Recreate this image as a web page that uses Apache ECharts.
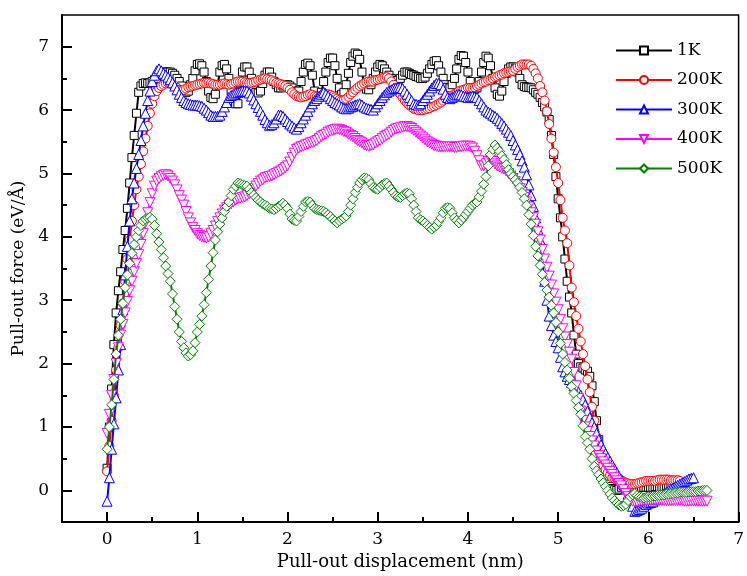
<!DOCTYPE html>
<html>
<head>
<meta charset="utf-8">
<script src="https://cdn.jsdelivr.net/npm/echarts@6/dist/echarts.min.js"></script>
<style>html,body{margin:0;padding:0;background:#fff}#c{width:747px;height:576px}</style>
</head>
<body>
<div id="c"></div>
<script>
// Pull-out displacement (nm)
var xs = [
0,0.025,0.05,0.075,0.1,0.125,0.15,0.175,0.2,0.225,0.25,0.275,0.3,0.325,0.35,0.375,0.4,0.425,0.45,0.475,
0.5,0.525,0.55,0.575,0.6,0.625,0.65,0.675,0.7,0.725,0.75,0.775,0.8,0.825,0.85,0.875,0.9,0.925,0.95,0.975,
1.0,1.025,1.05,1.075,1.1,1.125,1.15,1.175,1.2,1.225,1.25,1.275,1.3,1.325,1.35,1.375,1.4,1.425,1.45,1.475,
1.5,1.525,1.55,1.575,1.6,1.625,1.65,1.675,1.7,1.725,1.75,1.775,1.8,1.825,1.85,1.875,1.9,1.925,1.95,1.975,
2.0,2.025,2.05,2.075,2.1,2.125,2.15,2.175,2.2,2.225,2.25,2.275,2.3,2.325,2.35,2.375,2.4,2.425,2.45,2.475,
2.5,2.525,2.55,2.575,2.6,2.625,2.65,2.675,2.7,2.725,2.75,2.775,2.8,2.825,2.85,2.875,2.9,2.925,2.95,2.975,
3.0,3.025,3.05,3.075,3.1,3.125,3.15,3.175,3.2,3.225,3.25,3.275,3.3,3.325,3.35,3.375,3.4,3.425,3.45,3.475,
3.5,3.525,3.55,3.575,3.6,3.625,3.65,3.675,3.7,3.725,3.75,3.775,3.8,3.825,3.85,3.875,3.9,3.925,3.95,3.975,
4.0,4.025,4.05,4.075,4.1,4.125,4.15,4.175,4.2,4.225,4.25,4.275,4.3,4.325,4.35,4.375,4.4,4.425,4.45,4.475,
4.5,4.525,4.55,4.575,4.6,4.625,4.65,4.675,4.7,4.725,4.75,4.775,4.8,4.825,4.85,4.875,4.9,4.925,4.95,4.975,
5.0,5.025,5.05,5.075,5.1,5.125,5.15,5.175,5.2,5.225,5.25,5.275,5.3,5.325,5.35,5.375,5.4,5.425,5.45,5.475,
5.5,5.525,5.55,5.575,5.6,5.625,5.65,5.675,5.7,5.725,5.75,5.775,5.8,5.825,5.85,5.875,5.9,5.925,5.95,5.975,
6.0,6.025,6.05,6.075,6.1,6.125,6.15,6.175,6.2,6.225,6.25,6.275,6.3,6.325,6.35,6.375,6.4,6.425,6.45,6.475,
6.5,6.525,6.55,6.575,6.6,6.625,6.65
];
// Pull-out force (eV/Å)
var f1K = [
0.35,1.0,1.6,2.3,2.8,3.15,3.45,3.8,4.1,4.45,4.85,5.25,5.6,5.95,6.28,6.38,6.42,6.43,6.42,6.43,
6.45,6.48,6.5,6.55,6.58,6.6,6.6,6.6,6.6,6.58,6.55,6.5,6.45,6.38,6.3,6.28,6.3,6.4,6.5,6.62,
6.72,6.73,6.7,6.6,6.45,6.3,6.2,6.18,6.25,6.4,6.6,6.7,6.72,6.65,6.5,6.3,6.15,6.1,6.1,6.3,
6.6,6.68,6.68,6.6,6.5,6.38,6.28,6.27,6.3,6.42,6.55,6.6,6.6,6.52,6.45,6.4,6.35,6.35,6.38,6.4,
6.4,6.38,6.35,6.3,6.25,6.3,6.45,6.6,6.72,6.74,6.7,6.55,6.3,6.22,6.2,6.28,6.45,6.6,6.75,6.82,
6.82,6.7,6.5,6.35,6.25,6.28,6.4,6.58,6.75,6.85,6.9,6.88,6.8,6.6,6.4,6.33,6.32,6.4,6.5,6.6,
6.68,6.72,6.7,6.65,6.6,6.55,6.5,6.47,6.45,6.47,6.5,6.55,6.6,6.6,6.58,6.56,6.55,6.53,6.52,6.5,
6.5,6.52,6.58,6.65,6.72,6.77,6.78,6.7,6.6,6.5,6.4,6.36,6.35,6.4,6.5,6.65,6.8,6.86,6.85,6.75,
6.6,6.45,6.35,6.33,6.35,6.45,6.6,6.75,6.85,6.82,6.7,6.5,6.35,6.25,6.22,6.3,6.45,6.58,6.65,6.68,
6.68,6.66,6.6,6.5,6.4,6.37,6.36,6.36,6.35,6.32,6.28,6.25,6.2,6.12,6.05,5.97,5.85,5.6,5.3,4.95,
4.6,4.3,4.0,3.65,3.3,3.05,2.8,2.45,2.15,2.0,1.95,1.93,1.9,1.88,1.8,1.65,1.4,1.1,0.8,0.55,
0.3,0.18,0.1,0.06,0.03,0.01,0.0,0.02,0.05,0.07,0.08,0.07,0.06,0.05,0.05,0.06,0.06,0.05,0.05,0.05,
0.05,0.05,0.05,0.06,0.06,0.05,0.05,0.05,0.05,0.05,0.05
];
var f200K = [
0.3,0.7,1.1,1.5,1.9,2.25,2.6,2.95,3.3,3.65,3.95,4.25,4.5,4.75,4.95,5.15,5.35,5.55,5.75,5.95,
6.1,6.22,6.3,6.35,6.38,6.4,6.42,6.43,6.42,6.4,6.38,6.35,6.32,6.31,6.32,6.34,6.36,6.37,6.38,6.39,
6.4,6.41,6.42,6.43,6.43,6.43,6.42,6.41,6.4,6.4,6.4,6.41,6.42,6.41,6.4,6.41,6.42,6.44,6.45,6.45,
6.45,6.44,6.43,6.43,6.43,6.44,6.45,6.47,6.48,6.49,6.5,6.49,6.48,6.47,6.45,6.43,6.42,6.41,6.4,6.38,
6.35,6.32,6.28,6.25,6.22,6.21,6.2,6.21,6.22,6.24,6.25,6.24,6.22,6.21,6.2,6.21,6.22,6.24,6.25,6.24,
6.22,6.2,6.18,6.16,6.15,6.16,6.18,6.21,6.25,6.28,6.32,6.35,6.38,6.4,6.42,6.44,6.45,6.45,6.45,6.47,
6.48,6.49,6.5,6.51,6.52,6.5,6.45,6.4,6.35,6.3,6.25,6.2,6.15,6.11,6.08,6.05,6.02,6.01,6.0,6.0,
6.0,6.01,6.02,6.03,6.05,6.06,6.08,6.1,6.12,6.15,6.18,6.2,6.22,6.23,6.25,6.27,6.3,6.31,6.32,6.33,
6.35,6.35,6.35,6.36,6.38,6.4,6.42,6.44,6.45,6.47,6.48,6.5,6.52,6.53,6.55,6.56,6.58,6.59,6.6,6.61,
6.62,6.65,6.68,6.7,6.72,6.72,6.72,6.72,6.7,6.65,6.58,6.5,6.38,6.28,6.15,5.98,5.78,5.55,5.33,5.1,
4.85,4.58,4.3,4.1,3.9,3.55,3.2,2.97,2.75,2.55,2.35,2.15,1.96,1.75,1.55,1.32,1.1,0.85,0.62,0.5,
0.4,0.33,0.28,0.24,0.2,0.19,0.18,0.17,0.16,0.14,0.12,0.11,0.1,0.1,0.1,0.11,0.12,0.13,0.14,0.15,
0.15,0.15,0.15,0.15,0.16,0.17,0.17,0.17,0.17,0.17,0.16,0.16,0.16,0.16,0.15
];
var f300K = [
-0.17,0.2,0.65,1.05,1.46,1.9,2.3,2.85,3.4,3.85,4.25,4.6,4.85,5.08,5.3,5.52,5.75,5.95,6.15,6.3,
6.45,6.55,6.62,6.65,6.62,6.58,6.55,6.52,6.48,6.43,6.38,6.32,6.25,6.2,6.15,6.12,6.1,6.09,6.08,6.08,
6.08,6.07,6.06,6.03,6.0,5.96,5.92,5.9,5.9,5.9,5.92,5.98,6.05,6.12,6.2,6.23,6.25,6.27,6.28,6.29,
6.3,6.3,6.3,6.27,6.22,6.16,6.1,6.04,5.98,5.92,5.85,5.8,5.76,5.77,5.8,5.86,5.92,5.92,5.9,5.86,
5.82,5.78,5.75,5.72,5.7,5.74,5.8,5.86,5.92,5.98,6.05,6.1,6.15,6.18,6.22,6.25,6.28,6.25,6.22,6.18,
6.15,6.12,6.1,6.08,6.05,6.03,6.02,6.03,6.05,6.06,6.08,6.09,6.1,6.08,6.05,6.03,6.02,6.01,6.0,6.05,
6.1,6.15,6.2,6.24,6.28,6.3,6.32,6.34,6.35,6.36,6.36,6.34,6.3,6.25,6.2,6.15,6.1,6.09,6.08,6.1,
6.15,6.2,6.25,6.3,6.35,6.39,6.42,6.42,6.4,6.33,6.25,6.2,6.18,6.2,6.22,6.24,6.25,6.24,6.22,6.21,
6.2,6.21,6.22,6.21,6.2,6.15,6.1,6.05,6.0,5.97,5.95,5.92,5.9,5.87,5.83,5.79,5.75,5.7,5.65,5.6,
5.52,5.45,5.38,5.3,5.2,5.1,4.98,4.82,4.65,4.48,4.3,4.12,3.95,3.6,3.3,3.0,2.75,2.6,2.45,2.35,
2.25,2.1,1.95,1.87,1.8,1.75,1.7,1.65,1.6,1.55,1.5,1.43,1.35,1.25,1.15,1.07,1.0,0.9,0.8,0.72,
0.65,0.58,0.52,0.46,0.4,0.34,0.28,0.22,0.17,0.1,0.02,-0.06,-0.15,-0.25,-0.33,-0.32,-0.3,-0.28,-0.25,-0.22,
-0.2,-0.19,-0.18,-0.15,-0.13,-0.1,-0.08,-0.05,-0.03,0.0,0.02,0.04,0.06,0.08,0.1,0.12,0.14,0.16,0.18,0.19,
0.2
];
var f400K = [
0.9,1.2,1.5,1.75,2.0,2.25,2.45,2.62,2.8,2.98,3.15,3.3,3.45,3.58,3.72,3.88,4.05,4.22,4.38,4.54,
4.68,4.8,4.88,4.92,4.95,4.97,4.98,4.96,4.92,4.88,4.82,4.74,4.65,4.58,4.5,4.4,4.3,4.22,4.15,4.1,
4.05,4.02,4.0,3.99,3.98,4.0,4.05,4.1,4.17,4.24,4.3,4.36,4.42,4.46,4.5,4.52,4.55,4.58,4.6,4.61,
4.62,4.63,4.65,4.68,4.72,4.76,4.8,4.84,4.88,4.9,4.93,4.94,4.95,4.96,4.98,5.0,5.02,5.04,5.06,5.09,
5.12,5.18,5.25,5.32,5.38,5.4,5.42,5.43,5.45,5.46,5.48,5.49,5.5,5.52,5.55,5.58,5.6,5.62,5.65,5.67,
5.68,5.69,5.7,5.69,5.68,5.66,5.65,5.62,5.6,5.58,5.55,5.52,5.5,5.48,5.45,5.44,5.43,5.44,5.45,5.48,
5.5,5.52,5.55,5.58,5.6,5.62,5.65,5.68,5.7,5.71,5.72,5.73,5.74,5.74,5.73,5.71,5.68,5.65,5.62,5.59,
5.56,5.53,5.5,5.48,5.46,5.44,5.43,5.42,5.42,5.42,5.42,5.42,5.42,5.42,5.41,5.41,5.42,5.42,5.43,5.43,
5.43,5.42,5.4,5.35,5.28,5.2,5.12,5.12,5.15,5.19,5.22,5.19,5.15,5.12,5.1,5.08,5.07,5.04,5.0,4.96,
4.92,4.87,4.82,4.76,4.7,4.62,4.55,4.47,4.38,4.3,4.2,4.08,3.95,3.8,3.65,3.52,3.38,3.24,3.1,2.97,
2.85,2.7,2.55,2.42,2.3,2.18,2.07,1.86,1.65,1.45,1.25,1.1,1.0,0.93,0.85,0.78,0.7,0.62,0.55,0.5,
0.45,0.4,0.35,0.3,0.25,0.2,0.15,0.11,0.07,0.01,-0.05,-0.1,-0.15,-0.17,-0.18,-0.18,-0.17,-0.17,-0.16,-0.16,
-0.15,-0.15,-0.15,-0.15,-0.15,-0.15,-0.16,-0.16,-0.16,-0.16,-0.16,-0.16,-0.16,-0.16,-0.16,-0.16,-0.17,-0.17,-0.17,-0.17,
-0.17,-0.17,-0.17,-0.17,-0.17,-0.17,-0.17
];
var f500K = [
0.65,1.0,1.35,1.75,2.15,2.45,2.7,2.95,3.2,3.4,3.58,3.74,3.88,4.0,4.1,4.18,4.25,4.28,4.3,4.31,
4.28,4.18,4.05,3.92,3.8,3.67,3.54,3.42,3.3,3.1,2.9,2.7,2.5,2.35,2.25,2.17,2.12,2.14,2.2,2.33,
2.5,2.62,2.75,2.93,3.12,3.33,3.54,3.75,3.95,4.08,4.2,4.3,4.4,4.48,4.55,4.65,4.75,4.8,4.85,4.84,
4.82,4.81,4.8,4.75,4.7,4.66,4.62,4.58,4.55,4.52,4.5,4.48,4.45,4.44,4.43,4.45,4.48,4.5,4.53,4.5,
4.45,4.36,4.28,4.26,4.25,4.32,4.4,4.48,4.55,4.56,4.55,4.5,4.45,4.43,4.42,4.41,4.4,4.38,4.35,4.32,
4.28,4.25,4.22,4.25,4.28,4.3,4.33,4.4,4.5,4.6,4.7,4.78,4.85,4.9,4.93,4.92,4.9,4.84,4.78,4.76,
4.75,4.78,4.82,4.84,4.85,4.8,4.75,4.7,4.65,4.63,4.62,4.65,4.68,4.69,4.68,4.6,4.5,4.4,4.3,4.27,
4.25,4.22,4.18,4.15,4.12,4.15,4.18,4.24,4.3,4.38,4.45,4.46,4.45,4.38,4.3,4.26,4.22,4.26,4.3,4.35,
4.4,4.45,4.5,4.53,4.55,4.63,4.72,4.83,4.95,5.12,5.3,5.38,5.45,5.4,5.35,5.28,5.22,5.14,5.06,5.0,
4.95,4.9,4.85,4.78,4.7,4.6,4.5,4.35,4.2,4.02,3.85,3.7,3.55,3.41,3.28,3.16,3.05,2.92,2.8,2.65,
2.5,2.32,2.15,2.02,1.9,1.77,1.64,1.53,1.42,1.31,1.2,1.02,0.85,0.75,0.65,0.5,0.38,0.31,0.25,0.18,
0.12,0.06,0.0,-0.06,-0.12,-0.16,-0.2,-0.23,-0.25,-0.24,-0.22,-0.16,-0.1,-0.07,-0.05,-0.08,-0.1,-0.11,-0.12,-0.11,
-0.1,-0.1,-0.09,-0.09,-0.08,-0.08,-0.07,-0.07,-0.06,-0.06,-0.05,-0.05,-0.04,-0.04,-0.03,-0.03,-0.03,-0.03,-0.02,-0.02,
-0.02,-0.02,-0.01,-0.01,0.0,0.0,0.0
];
var seriesNames = ['1K','200K','300K','400K','500K'];
var xMajor = [0,1,2,3,4,5,6,7];
var xMinor = [0.5,1.5,2.5,3.5,4.5,5.5,6.5];
var yMajor = [0,1,2,3,4,5,6,7];
var yMinor = [0.5,1.5,2.5,3.5,4.5,5.5,6.5];

var FONT = 'DejaVu Serif';
var colors = ['#000000','#ff0000','#0000ff','#ff00ff','#008000'];
var symbols = ['rect','circle','triangle','path://M0,0 L10,0 L5,9 Z','diamond'];
var sizes = [8,9,10,10,10];
var ys = [f1K,f200K,f300K,f400K,f500K];

function pairs(y){ var d=[]; for(var i=0;i<y.length;i++){ d.push([xs[i], y[i]]); } return d; }

var series = seriesNames.map(function(n,k){
  return {
    name:n, type:'line', xAxisIndex:0, yAxisIndex:0,
    data:pairs(ys[k]),
    symbol:symbols[k], symbolSize:sizes[k], showAllSymbol:true,
    lineStyle:{color:colors[k], width:2},
    itemStyle:{color:'#ffffff', borderColor:colors[k], borderWidth:1},
    emphasis:{disabled:true},
    z: 2+k
  };
});

var chart = echarts.init(document.getElementById('c'), null, {renderer:'canvas'});
chart.setOption({
  animation:false,
  backgroundColor:'#ffffff',
  grid:{left:62, right:3, top:15, bottom:53, show:true, borderColor:'#000', borderWidth:1.5, containLabel:false},
  legend:{
    orient:'vertical', left:610, top:36,
    itemWidth:56, itemHeight:10, itemGap:10.5,
    data:seriesNames,
    textStyle:{fontFamily:FONT, fontSize:17, color:'#000', lineHeight:19}
  },
  xAxis:[{
    type:'value', min:-0.5, max:7,
    name:'Pull-out displacement (nm)', nameLocation:'middle', nameGap:29,
    nameTextStyle:{fontFamily:FONT, fontSize:18, color:'#000'},
    axisLine:{show:true, onZero:false, lineStyle:{color:'#000', width:2}},
    axisTick:{show:true, inside:true, length:10, lineStyle:{color:'#000', width:2}, customValues:xMajor},
    axisLabel:{fontFamily:FONT, fontSize:17, color:'#000', margin:9, customValues:xMajor},
    splitLine:{show:false}
  },{
    type:'value', min:-0.5, max:7, position:'bottom',
    axisLine:{show:false, onZero:false},
    axisTick:{show:true, inside:true, length:5, lineStyle:{color:'#000', width:2}, customValues:xMinor},
    axisLabel:{show:false},
    splitLine:{show:false}
  }],
  yAxis:[{
    type:'value', min:-0.5, max:7.5,
    name:'Pull-out force (eV/Å)', nameLocation:'middle', nameGap:33, nameRotate:90,
    nameTextStyle:{fontFamily:FONT, fontSize:17, color:'#000'},
    axisLine:{show:true, onZero:false, lineStyle:{color:'#000', width:2}},
    axisTick:{show:true, inside:true, length:10, lineStyle:{color:'#000', width:2}, customValues:yMajor},
    axisLabel:{fontFamily:FONT, fontSize:17, color:'#000', margin:13, customValues:yMajor},
    splitLine:{show:false}
  },{
    type:'value', min:-0.5, max:7.5, position:'left',
    axisLine:{show:false, onZero:false},
    axisTick:{show:true, inside:true, length:5, lineStyle:{color:'#000', width:2}, customValues:yMinor},
    axisLabel:{show:false},
    splitLine:{show:false}
  }],
  series:series
});
</script>
</body>
</html>
